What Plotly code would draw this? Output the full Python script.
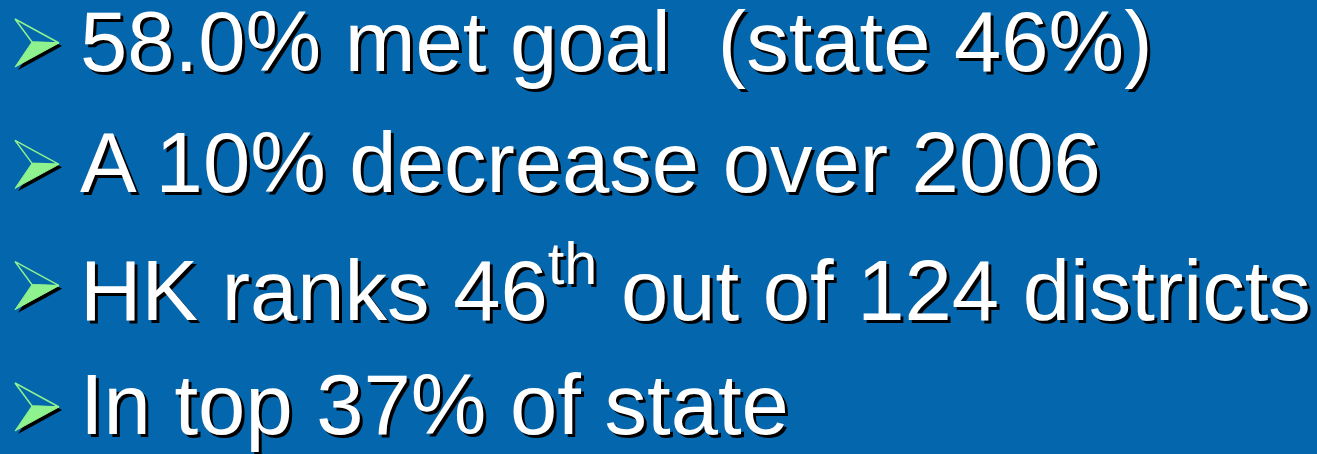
import plotly.graph_objects as go

# slide text, one bullet per row
lines = [
    "58.0% met goal  (state 46%)",
    "A 10% decrease over 2006",
    "HK ranks 46<sup>th</sup> out of 124 districts",
    "In top 37% of state",
]
rows = list(range(len(lines)))

bg = "#0466AC"
green = "#8EF28E"
font = "Liberation Sans, Arial, sans-serif"

W, H = 1317, 454
y_top, y_bot = -0.338, 3.404
px_per_row = H / (y_bot - y_top)

fig = go.Figure()


def arrow_path(r, dx=0, dy=0, part="all"):
    # arrowhead bullet, offsets in pixels around the row centre
    def pt(px, py):
        return f"{px + dx},{r + (py + dy) / px_per_row}"
    top, tip, notch, bot = pt(15, -22), pt(59, 2), pt(32, 1), pt(15, 26)
    if part == "upper":
        return f"M{top} L{tip} L{notch} Z"
    if part == "lower":
        return f"M{notch} L{tip} L{bot} Z"
    return f"M{top} L{tip} L{bot} L{notch} Z"


for r in rows:
    fig.add_shape(type="path", path=arrow_path(r, 3, 3), fillcolor="black",
                  line=dict(width=0), layer="above")
    fig.add_shape(type="path", path=arrow_path(r, part="upper"), fillcolor=bg,
                  line=dict(color=green, width=1.5), layer="above")
    fig.add_shape(type="path", path=arrow_path(r, part="lower"), fillcolor=green,
                  line=dict(color=green, width=1), layer="above")

for r, txt in zip(rows, lines):
    # drop shadow first, then white text on top
    fig.add_annotation(x=78, y=r, text=txt, xanchor="left", yanchor="middle",
                       showarrow=False, xshift=3, yshift=-3,
                       font=dict(family=font, size=85, color="black"))
    fig.add_annotation(x=78, y=r, text=txt, xanchor="left", yanchor="middle",
                       showarrow=False,
                       font=dict(family=font, size=85, color="white"))

fig.update_layout(
    width=W, height=H,
    margin=dict(l=0, r=0, t=0, b=0),
    paper_bgcolor=bg, plot_bgcolor=bg,
    xaxis=dict(range=[0, W], visible=False, fixedrange=True),
    yaxis=dict(range=[y_bot, y_top], visible=False, fixedrange=True),
)

fig.write_html("out.html", config={"displayModeBar": False},
               post_script="document.body.style.margin='0';"
                           "document.body.style.background='" + bg + "';")
